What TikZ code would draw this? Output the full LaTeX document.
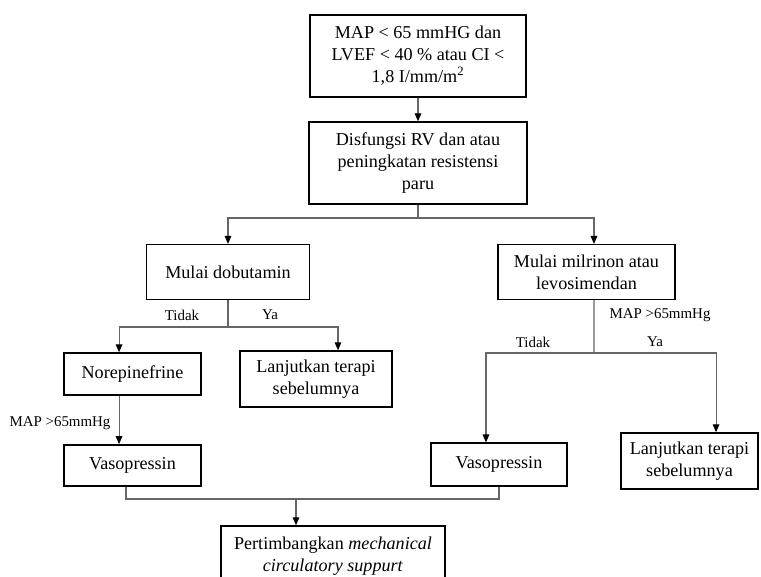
\documentclass[tikz,border=0pt]{standalone}
\usepackage{fontspec}
\setmainfont{Liberation Serif}
\usetikzlibrary{arrows.meta}
\begin{document}
\begin{tikzpicture}[x=0.75pt,y=-0.75pt,
                    box/.style={draw,line width=1.1pt,align=center,inner sep=2pt,
                                font=\fontsize{13.6}{16.5}\selectfont},
                    line/.style={draw=black!60,line width=0.8pt},
                    arr/.style={line,-{Triangle[length=6pt,width=5pt,color=black]}},
                    lbl/.style={font=\fontsize{11.2}{13}\selectfont}]
                    \useasboundingbox (0,0) rectangle (761,577);
                    \node[box,minimum width=162pt,minimum height=61.5pt] (map) at (418,56)
                        {MAP < 65 mmHG dan\\LVEF < 40 \% atau CI <\\1,8 I/mm/m\textsuperscript{2}};
                    \node[box,minimum width=163.5pt,minimum height=61.5pt] (disf) at (418,163)
                        {Disfungsi RV dan atau\\peningkatan resistensi\\paru};
                    \node[box,minimum width=122pt,minimum height=41pt] (dobut) at (228,272)
                        {Mulai dobutamin};
                    \node[box,minimum width=133pt,minimum height=41pt] (milri) at (586.5,272)
                        {Mulai milrinon atau\\levosimendan};
                    \node[box,minimum width=103pt,minimum height=31.5pt] (norepi) at (132.5,374)
                        {Norepinefrine};
                    \node[box,minimum width=114pt,minimum height=42pt] (lanjkiri) at (316,379)
                        {Lanjutkan terapi\\sebelumnya};
                    \node[box,minimum width=103pt,minimum height=31pt] (vasokiri) at (132.5,465.5)
                        {Vasopressin};
                    \node[box,minimum width=102pt,minimum height=32pt] (vasokanan) at (499,464.5)
                        {Vasopressin};
                    \node[box,minimum width=103pt,minimum height=42pt] (lanjkanan) at (689.5,461)
                        {Lanjutkan terapi\\sebelumnya};
                    \node[box,minimum width=168pt,minimum height=45pt] (mcs) at (333,556)
                        {Pertimbangkan \textit{mechanical}\\\textit{circulatory suppurt}};

                    \coordinate (cabang1) at (418,218);
                    \coordinate (cabang2) at (228,327);
                    \coordinate (cabang3) at (594,353);
                    \coordinate (gabung) at (296,499);

                    \draw[arr] (map) -- (disf);
                    \draw[line] (disf) -- (cabang1);
                    \draw[arr] (cabang1) -| (dobut.north);
                    \draw[arr] (cabang1) -| ([xshift=5.6pt]milri.north);

                    \draw[line] (dobut) -- (cabang2);
                    \draw[arr] (cabang2) -| ([xshift=-10.1pt]norepi.north);
                    \draw[arr] (cabang2) -| ([xshift=16.5pt]lanjkiri.north);
                    \draw[arr] ([xshift=-10.1pt]norepi.south) -- ([xshift=-10.1pt]vasokiri.north);

                    \draw[line] ([xshift=5.6pt]milri.south) -- (cabang3);
                    \draw[arr] (cabang3) -| ([xshift=-9.75pt]vasokanan.north);
                    \draw[arr] (cabang3) -| ([xshift=19.9pt]lanjkanan.north);

                    \draw[line] ([xshift=-4.9pt]vasokiri.south) |- (gabung) -| (vasokanan.south);
                    \draw[arr] (gabung) -- ([xshift=-27.75pt]mcs.north);

                    \node[lbl] (tidakkiri) at (182,315) {Tidak};
                    \node[lbl] (yakiri) at (270,315) {Ya};
                    \node[lbl] (mapkiri) at (60,423) {MAP >65mmHg};
                    \node[lbl] (mapkanan) at (660,315) {MAP >65mmHg};
                    \node[lbl] (tidakkanan) at (533,342) {Tidak};
                    \node[lbl] (yakanan) at (655,342) {Ya};
                \end{tikzpicture}
\end{document}
